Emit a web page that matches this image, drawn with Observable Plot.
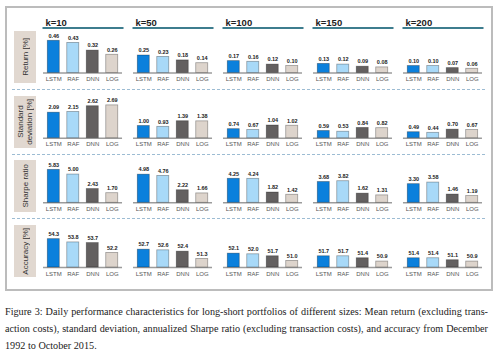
<!DOCTYPE html>
<html>
<head>
<meta charset="utf-8">
<script src="https://cdn.jsdelivr.net/npm/d3@7"></script>
<script src="https://cdn.jsdelivr.net/npm/@observablehq/plot@0.6"></script>
<style>
  html, body { margin: 0; padding: 0; background: #fff; }
  #wrap { position: relative; width: 500px; height: 355px; overflow: hidden; font-family: "Liberation Sans", Arial, sans-serif; }
  .abs { position: absolute; }
  .frame { left: 5px; top: 6px; width: 484px; height: 281px; border: 2px solid #bcbcbc; }
  .sep { left: 12px; width: 473px; height: 0; border-top: 1px dashed #9dbcd3; }
  .rowlab { left: 14px; width: 22px; background: #e1d8d0; display: flex; align-items: center; justify-content: center; }
  .rowlab span { writing-mode: vertical-rl; transform: rotate(180deg); font-size: 8px; line-height: 9px; color: #333; text-align: center; font-family: "Liberation Sans Narrow", "Liberation Sans", Arial, sans-serif; }
  .cap { left: 5px; width: 483px; font-family: "Liberation Serif", "DejaVu Serif", serif; font-size: 10px; line-height: 12px; color: #222; }
  .just { text-align: justify; text-align-last: justify; }
</style>
</head>
<body>
<div id="wrap"></div>
<script>
const ks = ["k=10", "k=50", "k=100", "k=150", "k=200"];
const models = ["LSTM", "RAF", "DNN", "LOG"];
const returnVals = [[0.46, 0.43, 0.32, 0.26], [0.25, 0.23, 0.18, 0.14], [0.17, 0.16, 0.12, 0.10], [0.13, 0.12, 0.09, 0.08], [0.10, 0.10, 0.07, 0.06]];
const stdVals = [[2.09, 2.15, 2.62, 2.69], [1.00, 0.93, 1.39, 1.38], [0.74, 0.67, 1.04, 1.02], [0.59, 0.53, 0.84, 0.82], [0.49, 0.44, 0.70, 0.67]];
const sharpeVals = [[5.83, 5.00, 2.43, 1.70], [4.98, 4.76, 2.22, 1.66], [4.25, 4.24, 1.82, 1.42], [3.68, 3.82, 1.62, 1.31], [3.30, 3.58, 1.46, 1.19]];
const accVals = [[54.3, 53.8, 53.7, 52.2], [52.7, 52.6, 52.4, 51.3], [52.1, 52.0, 51.7, 51.0], [51.7, 51.7, 51.4, 50.9], [51.4, 51.4, 51.1, 50.9]];
const rowLabels = ["Return [%]", "Standard<br>deviation [%]", "Sharpe ratio", "Accuracy [%]"];
const captionLines = [
  "Figure 3: Daily performance characteristics for long-short portfolios of different sizes: Mean return (excluding trans-",
  "action costs), standard deviation, annualized Sharpe ratio (excluding transaction costs), and accuracy from December",
  "1992 to October 2015."
];
const barColors = ["#0b80dc", "#a8d9f8", "#636060", "#ddd4cc"];

const wrap = document.getElementById("wrap");

function addDiv(cls, style, html) {
  const d = document.createElement("div");
  d.className = "abs " + cls;
  Object.assign(d.style, style);
  if (html != null) d.innerHTML = html;
  wrap.appendChild(d);
  return d;
}

addDiv("frame", {});
[89, 154, 218].forEach(y => addDiv("sep", {top: y + "px"}));
const labTops = [31, 96, 160, 225];
rowLabels.forEach((t, i) => addDiv("rowlab", {top: labTops[i] + "px", height: "52px"}, "<span>" + t + "</span>"));

function table(vals) {
  const out = [];
  ks.forEach((k, i) => models.forEach((m, j) => out.push({k, model: m, value: vals[i][j]})));
  return out;
}

function rowPlot({vals, domain, base, fmt, top, mTop, inner, header}) {
  const data = table(vals);
  const marks = [
    Plot.ruleY([base], {stroke: "#9c9c9c", strokeWidth: 1.5}),
    Plot.barY(data, {fx: "k", x: "model", y1: base, y2: "value", fill: "model", stroke: "#000", strokeOpacity: 0.35, strokeWidth: 0.8}),
    Plot.text(data, {fx: "k", x: "model", y: "value", text: d => fmt(d.value), dy: -5, fontSize: 5.5, fontWeight: "bold", fill: "#222"})
  ];
  if (header) {
    marks.push(Plot.frame({anchor: "top", stroke: "#3e7d8e", strokeWidth: 2}));
    marks.push(Plot.text(ks, {fx: d => d, text: d => d, frameAnchor: "top-left", textAnchor: "start", dx: 2, dy: -8.5, fontSize: 9.5, fontWeight: "bold", fill: "#222"}));
  }
  const mBottom = 14;
  const p = Plot.plot({
    width: 500,
    height: mTop + inner + mBottom,
    marginLeft: 43,
    marginRight: 18,
    marginTop: mTop,
    marginBottom: mBottom,
    style: {fontSize: "6px", color: "#555", fontFamily: "'Liberation Sans Narrow', 'Liberation Sans', Arial, sans-serif", background: "transparent", overflow: "visible"},
    fx: {domain: ks, paddingInner: 0.122, paddingOuter: 0, axis: null, round: false},
    x: {domain: models, paddingInner: 0.385, paddingOuter: 0.22, tickSize: 0, tickPadding: 4, label: null, round: false},
    y: {domain, axis: null},
    color: {domain: models, range: barColors},
    marks
  });
  p.style.position = "absolute";
  p.style.left = "0px";
  p.style.top = top + "px";
  wrap.appendChild(p);
}

const f2 = d3.format(".2f"), f1 = d3.format(".1f");
rowPlot({vals: returnVals, domain: [0, 45 / 70], base: 0, fmt: f2, top: 0, mTop: 27.5, inner: 45, header: true});
rowPlot({vals: stdVals, domain: [0, 42.7 / 12.2], base: 0, fmt: f2, top: 90, mTop: 5, inner: 42.7});
rowPlot({vals: sharpeVals, domain: [0, 42.3 / 5.65], base: 0, fmt: f2, top: 155, mTop: 5, inner: 42.3});
rowPlot({vals: accVals, domain: [50, 50 + 41 / 6.6], base: 50, fmt: f1, top: 221, mTop: 5, inner: 41});

// caption: fit font size so the longest justified line fits the width
const capCenters = [312, 329, 346];
let capSize = 10.4;
const probe = document.createElement("span");
probe.style.cssText = "position:absolute;visibility:hidden;white-space:nowrap;font-family:'Liberation Serif','DejaVu Serif',serif;";
wrap.appendChild(probe);
const maxW = () => Math.max(...captionLines.map(t => { probe.style.fontSize = capSize + "px"; probe.textContent = t; return probe.getBoundingClientRect().width; }));
while (maxW() > 478 && capSize > 7) capSize -= 0.2;
probe.remove();
captionLines.forEach((t, i) => {
  const d = addDiv("cap" + (i < 2 ? " just" : ""), {top: (capCenters[i] - 6) + "px", fontSize: capSize + "px"}, t);
});
</script>
</body>
</html>
